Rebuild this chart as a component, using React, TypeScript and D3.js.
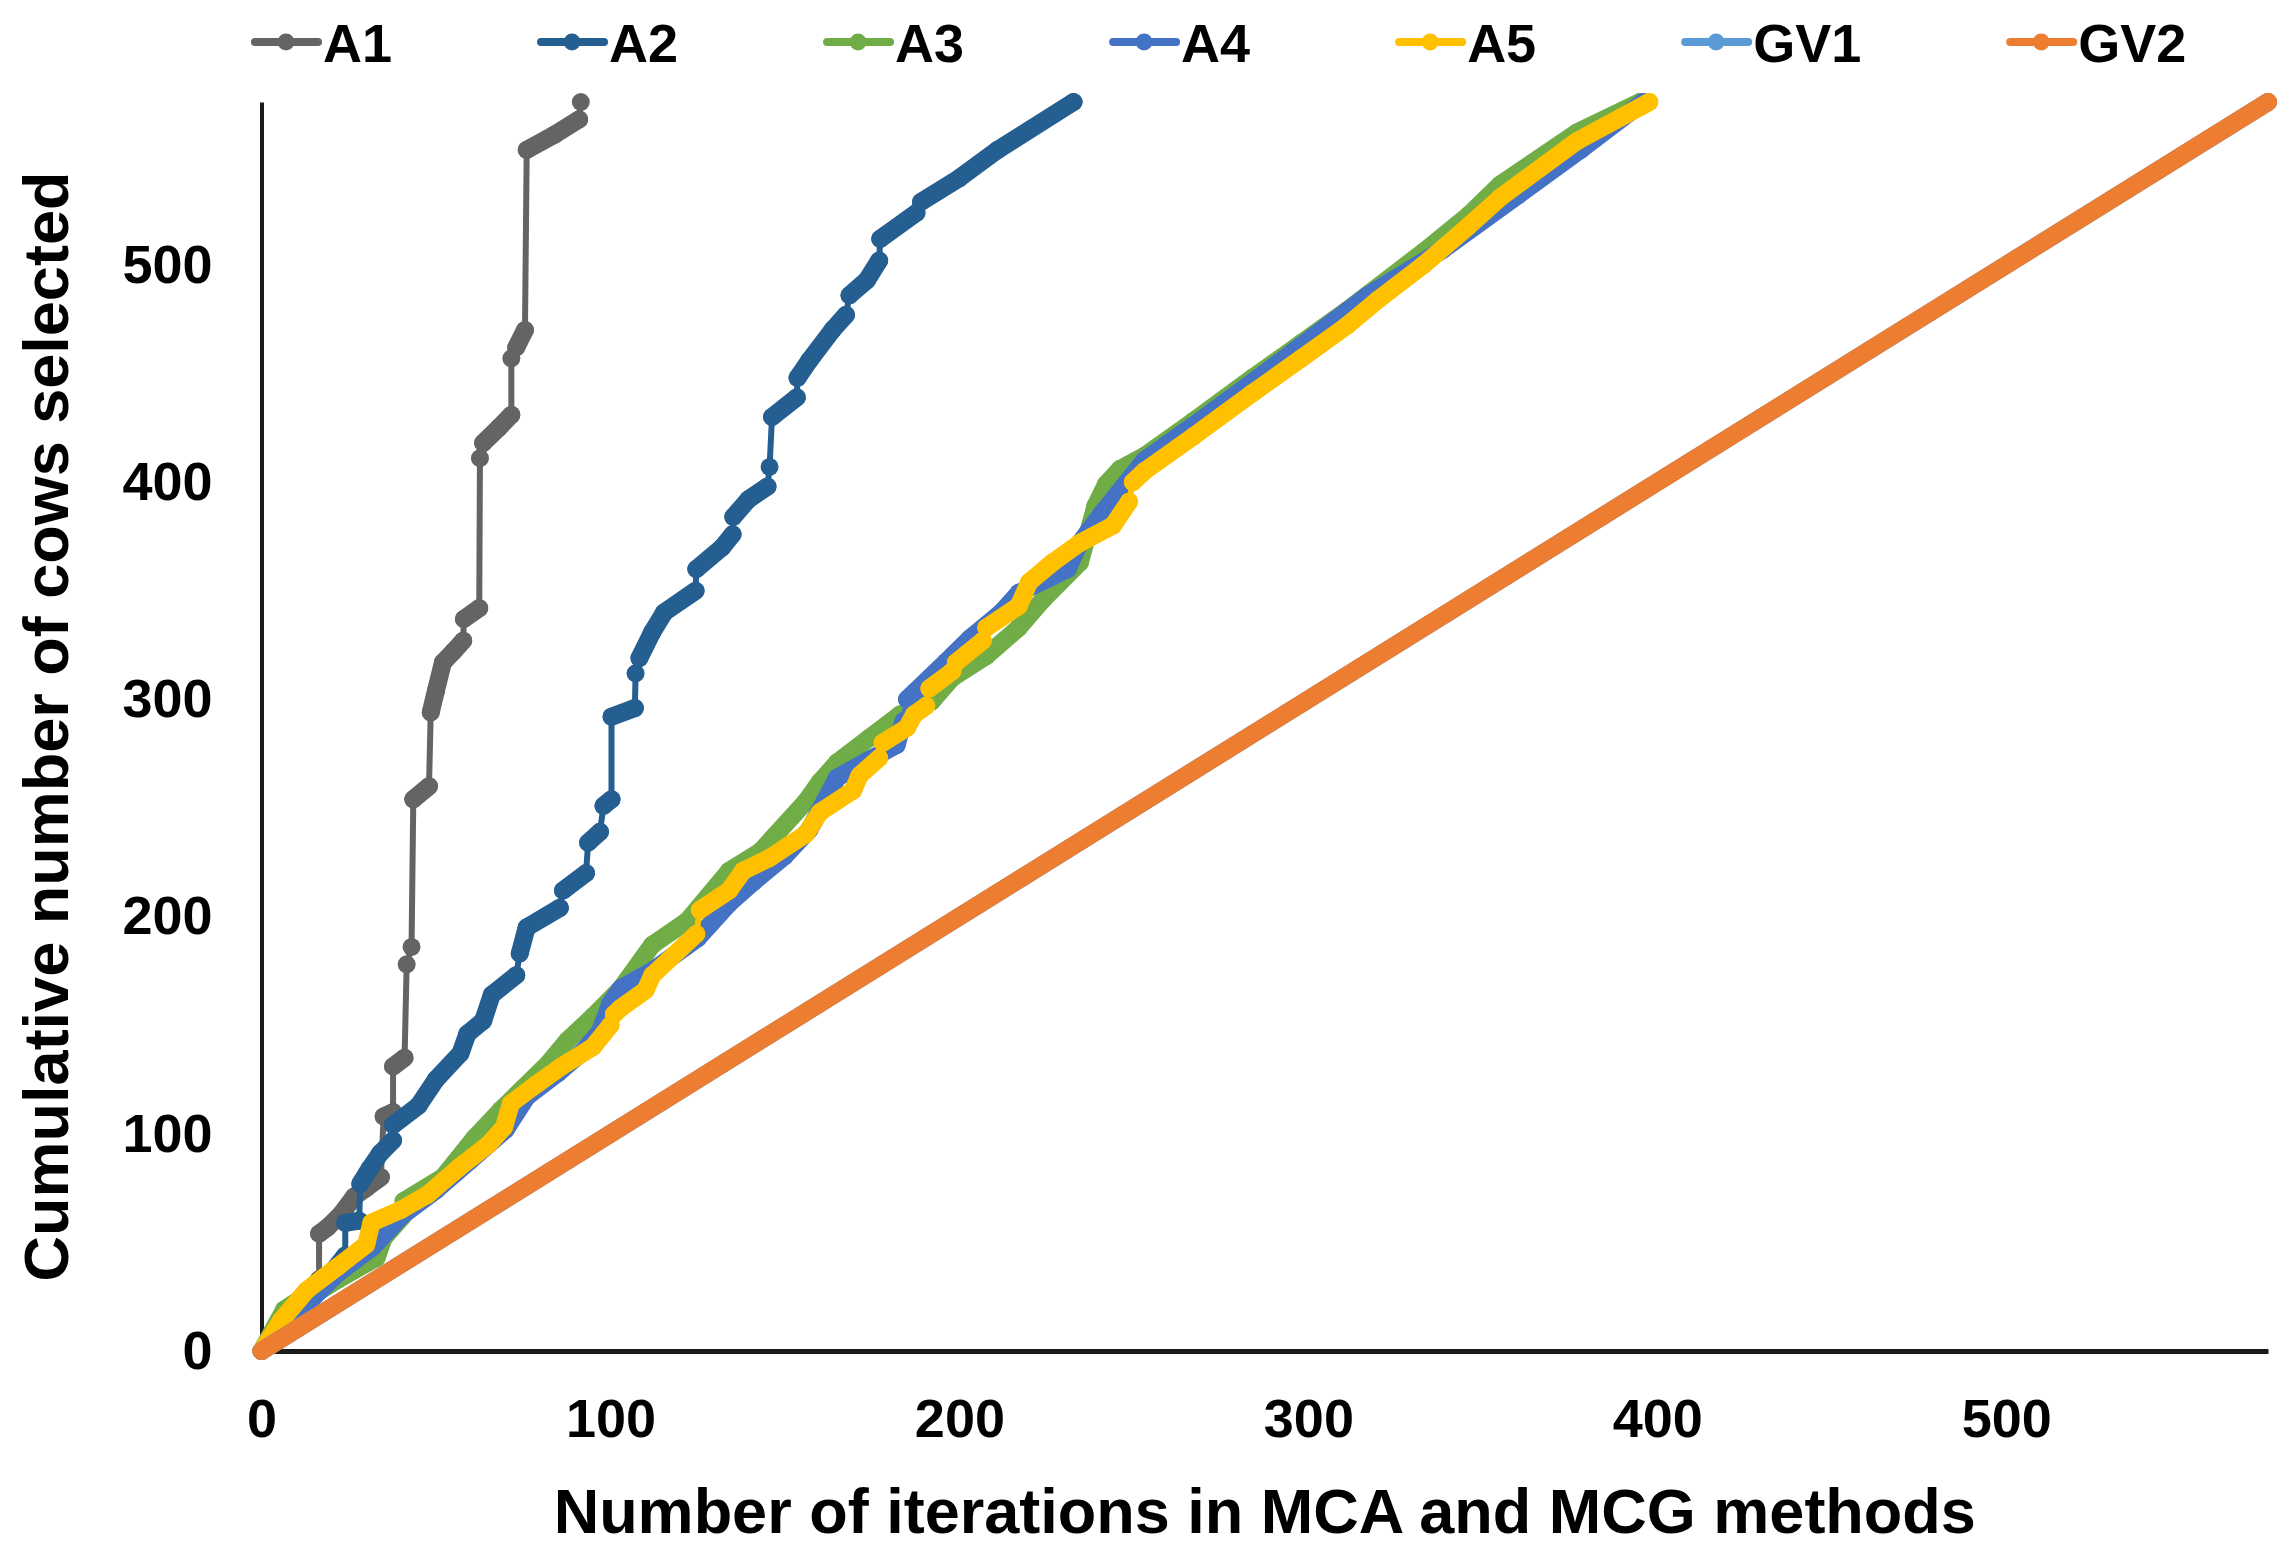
import React, { useEffect, useRef } from "react";
import * as d3 from "d3";

type Pt = [number, number];

const xTicks = [0, 100, 200, 300, 400, 500];
const yTicks = [0, 100, 200, 300, 400, 500];
const axisMax = 575;

const seriesNames = ["A1", "A2", "A3", "A4", "A5", "GV1", "GV2"];
const seriesColors = [
  "#646464",
  "#255E91",
  "#70AD47",
  "#4472C4",
  "#FFC000",
  "#5B9BD5",
  "#ED7D31",
];

// [iteration, cumulative cows]
const a1: Pt[] = [
  [0, 0], [8, 15], [16.5, 33], [16.5, 54], [19, 57], [22.8, 63], [26.5, 71],
  [30, 75], [34.2, 80], [35, 108], [37.7, 110], [37.7, 131], [41, 135],
  [41.6, 178], [43, 186], [43.5, 254], [48, 260], [48.5, 294], [50, 304],
  [52, 317], [55, 322], [57.8, 327], [58, 337], [62.4, 342], [62.6, 411],
  [63.5, 418], [68, 425], [71.6, 431], [71.6, 457], [73, 462], [75.5, 470],
  [76, 553], [84, 560], [91, 567], [91.5, 575],
];

const a2: Pt[] = [
  [0, 0], [10, 18], [20, 36], [24, 44], [24, 59], [28, 60], [28.3, 77],
  [31, 84], [34, 91], [37.7, 97], [37.7, 104], [45, 113], [50, 125],
  [57, 137], [59, 146], [63.5, 152], [66, 164], [73, 173], [74, 183],
  [76, 195], [85.5, 204], [86.4, 212], [93, 220], [93.6, 234], [97, 239],
  [98, 251], [100.3, 254], [100.3, 292], [107, 296], [107.2, 312],
  [108.3, 319], [112, 331], [115.4, 340], [124.4, 350], [124.6, 360],
  [132, 370], [135, 376], [135.2, 384], [139.5, 392], [145, 398],
  [145.6, 407], [146.3, 430], [153.4, 439], [153.6, 448], [157, 456],
  [163.6, 470], [167.5, 477], [168.5, 486], [173.5, 493], [177, 502],
  [177.3, 512], [187.7, 524], [189, 529], [200, 540], [211, 553],
  [232.7, 575],
];

const a3: Pt[] = [
  [0, 0], [6.5, 19], [13, 26], [16, 27], [22, 33], [33, 43], [35, 52],
  [40.5, 62], [40.7, 69], [52, 80], [61, 98], [68.6, 111], [82, 132],
  [87.7, 143], [95, 154], [103, 167], [112, 187], [122, 198], [134, 221],
  [143, 230], [156, 253], [160, 262], [165, 271], [174, 282], [183, 293],
  [192, 299], [198, 310], [207.7, 320], [217, 333], [224, 346],
  [234.5, 363], [239, 389], [242, 399], [246, 406], [253, 412], [267, 428],
  [284, 448], [298, 464], [311, 479], [333, 506], [346, 523], [355, 537],
  [377, 561], [395, 575],
];

const a4: Pt[] = [
  [0, 0], [7, 12], [15, 25], [22, 36], [32, 48], [40, 62], [50, 74],
  [60, 88], [70, 102], [76, 117], [85, 128], [91.5, 137], [97, 147],
  [100, 160], [103, 167], [112, 175], [125, 190], [134, 206], [141, 216],
  [150, 228], [157, 240], [165, 264], [174, 272], [182, 279], [184, 290],
  [185, 300], [196, 317], [203, 328], [212, 340], [217, 349], [231, 360],
  [234.5, 372], [241, 386], [248, 400], [253, 410], [267, 426], [289, 452],
  [317, 486], [338.5, 507], [360, 532], [378, 553], [396, 575],
];

const a5: Pt[] = [
  [0, 0], [5.6, 14], [13, 28], [22, 39], [30, 49], [31.5, 59], [40, 65],
  [47.6, 72], [57, 85], [65, 95], [69.5, 103], [71.5, 114], [79, 123],
  [86, 131], [95, 140], [100, 150], [101, 155], [103, 158], [110, 166],
  [112, 173], [124.6, 192], [125.6, 203], [134, 212], [138, 221],
  [145.6, 227], [156, 238], [160, 248], [169.5, 258], [171.4, 265],
  [177, 273], [178, 280], [185, 287], [187, 293], [190.5, 297],
  [191.4, 305], [198, 313], [199, 317], [206.7, 327], [207.7, 333],
  [217, 343], [220, 354], [226.7, 363], [234.5, 372], [244, 380],
  [248.6, 391], [249.7, 400], [253, 405], [267, 421], [284, 441],
  [298, 457], [311, 472], [320, 484], [333, 500], [346, 518], [355, 531],
  [377, 557], [397.7, 575],
];

const gv1: Pt[] = [[0, 0], [575, 575]];
const gv2: Pt[] = [[0, 0], [575, 575]];

const allSeries = [a1, a2, a3, a4, a5, gv1, gv2];

const FONT = "'Liberation Sans', Arial, sans-serif";

const App: React.FC = () => {
  const svgRef = useRef<SVGSVGElement | null>(null);

  useEffect(() => {
    const width = 2291,
      height = 1554;
    const margin = { top: 102, right: 23, bottom: 203, left: 261.5 };

    const x = d3
      .scaleLinear()
      .domain([0, axisMax])
      .range([margin.left, width - margin.right]);
    const y = d3
      .scaleLinear()
      .domain([0, axisMax])
      .range([height - margin.bottom, margin.top]);

    const svg = d3.select(svgRef.current);
    svg.selectAll("*").remove();

    svg
      .append("rect")
      .attr("width", width)
      .attr("height", height)
      .attr("fill", "#fff");

    // axes
    const yAxis = svg
      .append("g")
      .attr("transform", `translate(${margin.left},0)`)
      .call(d3.axisLeft(y).tickValues(yTicks).tickSize(0).tickPadding(49));
    yAxis.select(".domain").attr("stroke", "#1a1a1a").attr("stroke-width", 4);

    const xAxis = svg
      .append("g")
      .attr("transform", `translate(0,${height - margin.bottom})`)
      .call(d3.axisBottom(x).tickValues(xTicks).tickSize(0).tickPadding(48));
    xAxis.select(".domain").attr("stroke", "#1a1a1a").attr("stroke-width", 5);

    svg
      .selectAll(".tick text")
      .attr("font-family", FONT)
      .attr("font-weight", "bold")
      .attr("font-size", 54)
      .attr("fill", "#000");

    // series
    const line = d3
      .line<Pt>()
      .x((d) => x(d[0]))
      .y((d) => y(d[1]));

    allSeries.forEach((pts, i) => {
      const col = seriesColors[i];
      const g = svg.append("g").attr("class", `series-${seriesNames[i]}`);

      g.append("path")
        .attr("d", line(pts) ?? "")
        .attr("fill", "none")
        .attr("stroke", col)
        .attr("stroke-width", 6)
        .attr("stroke-linejoin", "round");

      // runs of consecutive iterations: markers overlap into a thick band
      const runs = d3.pairs(pts).filter(([p, q]) => q[0] - p[0] >= 1.5);
      g.selectAll("path.band")
        .data(runs)
        .join("path")
        .attr("class", "band")
        .attr("d", (d) => line(d as Pt[]) ?? "")
        .attr("fill", "none")
        .attr("stroke", col)
        .attr("stroke-width", 18)
        .attr("stroke-linecap", "round");

      g.selectAll("circle")
        .data(pts)
        .join("circle")
        .attr("cx", (d) => x(d[0]))
        .attr("cy", (d) => y(d[1]))
        .attr("r", 9)
        .attr("fill", col);
    });

    // legend
    let lx = 255;
    const ly = 42;
    seriesNames.forEach((name, i) => {
      const g = svg.append("g");
      g.append("line")
        .attr("x1", lx)
        .attr("x2", lx + 63)
        .attr("y1", ly)
        .attr("y2", ly)
        .attr("stroke", seriesColors[i])
        .attr("stroke-width", 8)
        .attr("stroke-linecap", "round");
      g.append("circle")
        .attr("cx", lx + 31)
        .attr("cy", ly)
        .attr("r", 8.5)
        .attr("fill", seriesColors[i]);
      const t = g
        .append("text")
        .attr("x", lx + 68)
        .attr("y", 62)
        .attr("font-family", FONT)
        .attr("font-weight", "bold")
        .attr("font-size", 54)
        .text(name);
      const w = (t.node() as SVGTextElement).getComputedTextLength();
      lx += 68 + w + 149;
    });

    // axis titles
    svg
      .append("text")
      .attr("x", (margin.left + width - margin.right) / 2)
      .attr("y", 1533)
      .attr("text-anchor", "middle")
      .attr("font-family", FONT)
      .attr("font-weight", "bold")
      .attr("font-size", 63)
      .text("Number of iterations in MCA and MCG methods");

    svg
      .append("text")
      .attr("transform", `translate(68,${(margin.top + height - margin.bottom) / 2}) rotate(-90)`)
      .attr("text-anchor", "middle")
      .attr("font-family", FONT)
      .attr("font-weight", "bold")
      .attr("font-size", 63)
      .text("Cumulative number of cows selected");
  }, []);

  return (
    <svg
      ref={svgRef}
      width={2291}
      height={1554}
      style={{ position: "absolute", left: 0, top: 0 }}
    ></svg>
  );
};

export default App;
